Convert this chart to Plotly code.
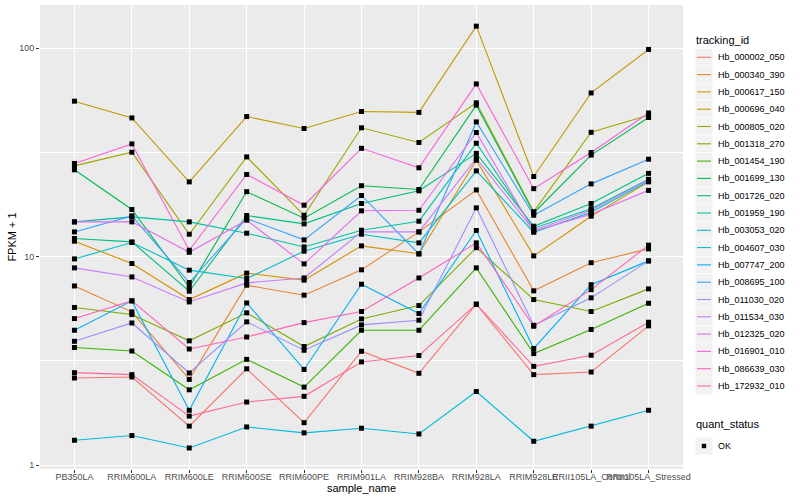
import plotly.graph_objects as go

samples = ["PB350LA", "RRIM600LA", "RRIM600LE", "RRIM600SE", "RRIM600PE",
           "RRIM901LA", "RRIM928BA", "RRIM928LA", "RRIM928LE",
           "RRII105LA_Control", "RRII105LA_Stressed"]

tracking_ids = ["Hb_000002_050", "Hb_000340_390", "Hb_000617_150", "Hb_000696_040",
                "Hb_000805_020", "Hb_001318_270", "Hb_001454_190", "Hb_001699_130",
                "Hb_001726_020", "Hb_001959_190", "Hb_003053_020", "Hb_004607_030",
                "Hb_007747_200", "Hb_008695_100", "Hb_011030_020", "Hb_011534_030",
                "Hb_012325_020", "Hb_016901_010", "Hb_086639_030", "Hb_172932_010"]

colors = ["#F8766D", "#EA8331", "#D89000", "#C09B00", "#A3A500", "#7CAE00", "#39B600",
          "#00BB4E", "#00BF7D", "#00C1A3", "#00BFC4", "#00BAE0", "#00B0F6", "#35A2FF",
          "#9590FF", "#C77CFF", "#E76BF3", "#FA62DB", "#FF62BC", "#FF6C91"]

# FPKM + 1 per sample (order of `samples`)
hb_000002_050 = [2.62, 2.65, 1.54, 2.90, 1.60, 3.52, 2.76, 5.92, 2.72, 2.80, 4.66]
hb_000340_390 = [7.24, 5.44, 2.58, 7.30, 6.54, 8.65, 13.15, 20.9, 6.86, 9.36, 10.9]
hb_000617_150 = [11.87, 9.28, 6.23, 8.34, 7.72, 11.27, 10.33, 29.0, 10.09, 15.64, 22.85]
hb_000696_040 = [55.7, 46.3, 22.85, 47.0, 41.2, 49.7, 49.2, 127.5, 24.25, 61.0, 98.6]
hb_000805_020 = [27.26, 31.7, 12.82, 30.1, 15.8, 41.5, 35.3, 54.7, 16.44, 39.5, 47.7]
hb_001318_270 = [5.71, 5.28, 3.95, 5.38, 3.71, 5.03, 5.83, 11.05, 6.23, 5.46, 7.01]
hb_001454_190 = [3.67, 3.53, 2.30, 3.22, 2.37, 4.44, 4.44, 8.84, 3.43, 4.48, 5.98]
hb_001699_130 = [26.1, 16.84, 7.14, 20.5, 15.3, 21.9, 21.0, 53.3, 16.2, 30.7, 46.5]
hb_001726_020 = [12.23, 11.78, 6.83, 15.76, 14.37, 18.0, 20.7, 31.3, 14.0, 18.0, 25.1]
hb_001959_190 = [14.69, 15.52, 14.69, 12.96, 11.14, 13.4, 14.8, 35.0, 13.7, 17.0, 23.5]
hb_003053_020 = [9.76, 11.7, 8.62, 7.86, 10.63, 12.82, 11.65, 25.8, 13.1, 16.35, 23.0]
hb_004607_030 = [1.318, 1.388, 1.21, 1.526, 1.43, 1.505, 1.413, 2.257, 1.303, 1.54, 1.835]
hb_007747_200 = [4.44, 6.14, 1.835, 6.0, 2.88, 7.38, 5.34, 13.36, 3.63, 7.34, 9.55]
hb_008695_100 = [13.15, 15.7, 7.52, 15.25, 12.04, 19.66, 10.31, 44.3, 15.8, 22.35, 29.35]
hb_011030_020 = [3.93, 4.81, 2.77, 4.87, 3.56, 4.71, 4.96, 17.15, 4.69, 6.35, 9.55]
hb_011534_030 = [8.84, 8.0, 6.07, 7.49, 7.91, 13.15, 13.15, 29.6, 13.4, 16.7, 23.3]
hb_012325_020 = [14.69, 14.69, 10.5, 14.97, 9.24, 16.6, 16.7, 39.4, 13.25, 16.0, 20.8]
hb_016901_010 = [28.0, 34.75, 10.74, 24.8, 17.66, 33.1, 26.7, 67.4, 21.2, 31.6, 48.9]
hb_086639_030 = [5.05, 6.14, 3.61, 4.12, 4.83, 5.46, 7.91, 11.65, 4.64, 6.95, 11.36]
hb_172932_010 = [2.78, 2.72, 1.72, 2.01, 2.14, 3.13, 3.36, 5.92, 2.98, 3.37, 4.85]

series_values = [hb_000002_050, hb_000340_390, hb_000617_150, hb_000696_040, hb_000805_020,
                 hb_001318_270, hb_001454_190, hb_001699_130, hb_001726_020, hb_001959_190,
                 hb_003053_020, hb_004607_030, hb_007747_200, hb_008695_100, hb_011030_020,
                 hb_011534_030, hb_012325_020, hb_016901_010, hb_086639_030, hb_172932_010]

quant_status = ["OK"]

y_ticks = [1, 10, 100]
y_minor = [10 ** 0.5, 10 ** 1.5]

FONT = "Liberation Sans, Arial, sans-serif"
W, H = 800, 500
ML, MR, MT, MB = 40, 116.5, 5, 31
PW, PH = W - ML - MR, H - MT - MB


def px_to_paper_x(px):
    return (px - ML) / PW


def px_to_paper_y(py):
    return (H - MB - py) / PH


fig = go.Figure()

for name, col, vals in zip(tracking_ids, colors, series_values):
    fig.add_trace(go.Scatter(
        x=samples, y=vals, mode="lines", name=name,
        line=dict(color=col, width=1.1), showlegend=False,
    ))

# status points drawn on top of all lines
all_x, all_y = [], []
for vals in series_values:
    all_x.extend(samples)
    all_y.extend(vals)
fig.add_trace(go.Scatter(
    x=all_x, y=all_y, mode="markers", name=quant_status[0],
    marker=dict(symbol="square", size=5, color="black"), showlegend=False,
))

# ---- ggplot-style legends (layout decoration) ----
shapes, annotations = [], []
key_x0, key_x1 = 696, 713
label_x = 717
item_h = 17.3
first_y = 57.3


def add_title(text, py):
    annotations.append(dict(
        text=text, xref="paper", yref="paper", x=px_to_paper_x(695), y=px_to_paper_y(py),
        xanchor="left", yanchor="middle", showarrow=False,
        font=dict(size=11, color="black", family=FONT)))


def add_key_box(cy):
    shapes.append(dict(type="rect", xref="paper", yref="paper",
                       x0=px_to_paper_x(key_x0), x1=px_to_paper_x(key_x1),
                       y0=px_to_paper_y(cy - 8.3), y1=px_to_paper_y(cy + 8.3),
                       fillcolor="#F2F2F2", line=dict(width=0), layer="below"))


def add_label(text, cy):
    annotations.append(dict(
        text=text, xref="paper", yref="paper", x=px_to_paper_x(label_x), y=px_to_paper_y(cy),
        xanchor="left", yanchor="middle", showarrow=False,
        font=dict(size=9, color="black", family=FONT)))


add_title("tracking_id", 39.5)
for i, (name, col) in enumerate(zip(tracking_ids, colors)):
    cy = first_y + i * item_h
    add_key_box(cy)
    shapes.append(dict(type="line", xref="paper", yref="paper",
                       x0=px_to_paper_x(697.5), x1=px_to_paper_x(711.5),
                       y0=px_to_paper_y(cy), y1=px_to_paper_y(cy),
                       line=dict(color=col, width=1.1)))
    add_label(name, cy)

add_title("quant_status", 424)
for j, status in enumerate(quant_status):
    cy = 446 + j * item_h
    add_key_box(cy)
    shapes.append(dict(type="rect", xref="paper", yref="paper",
                       x0=px_to_paper_x(702.3), x1=px_to_paper_x(706.7),
                       y0=px_to_paper_y(cy - 2.2), y1=px_to_paper_y(cy + 2.2),
                       fillcolor="black", line=dict(width=0)))
    add_label(status, cy)

fig.update_layout(
    width=W, height=H,
    margin=dict(l=ML, r=MR, t=MT, b=MB, autoexpand=False),
    paper_bgcolor="white",
    plot_bgcolor="#EBEBEB",
    font=dict(family=FONT, color="#000000"),
    showlegend=False,
    shapes=shapes,
    annotations=annotations,
    xaxis=dict(
        type="category", categoryorder="array", categoryarray=samples,
        range=[-0.6, 10.6], showgrid=True, gridcolor="white", gridwidth=1.1,
        zeroline=False, ticks="outside", ticklen=3, tickcolor="#333333",
        tickangle=0, tickfont=dict(size=9, color="#4D4D4D", family=FONT),
        ticklabelstandoff=-4,
        title=dict(text="sample_name", font=dict(size=11, color="black"), standoff=0),
        showline=False, automargin=False,
    ),
    yaxis=dict(
        type="log", range=[-0.018, 2.207],
        tickmode="array", tickvals=y_ticks, ticktext=[str(v) for v in y_ticks],
        showgrid=True, gridcolor="white", gridwidth=1.1, zeroline=False,
        ticks="outside", ticklen=3, tickcolor="#333333",
        tickfont=dict(size=9, color="#4D4D4D", family=FONT),
        minor=dict(tickmode="array", tickvals=y_minor, showgrid=True,
                   gridcolor="white", gridwidth=0.55, ticks=""),
        title=dict(text="FPKM + 1", font=dict(size=11, color="black"), standoff=0),
        showline=False, automargin=False,
    ),
)

fig.write_html(
    "out.html",
    config={"displayModeBar": False},
    post_script="document.body.style.margin='0px';document.body.style.overflow='hidden';",
)
